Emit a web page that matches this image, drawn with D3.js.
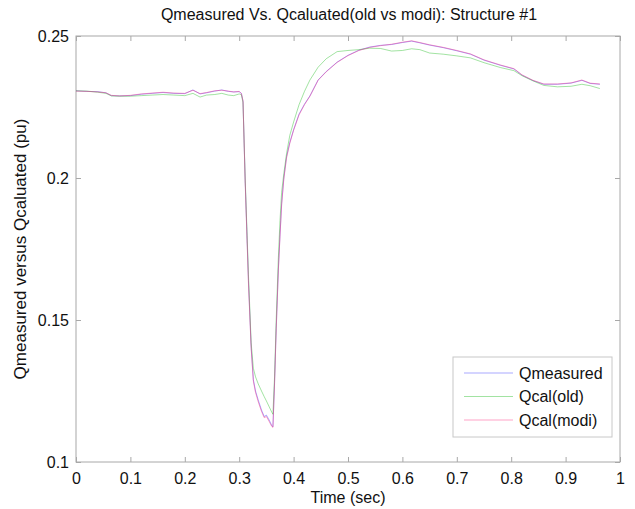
<!DOCTYPE html>
<html>
<head>
<meta charset="utf-8">
<script src="https://cdn.jsdelivr.net/npm/d3@7"></script>
<style>
  body { margin: 0; background: #fff; }
  svg { display: block; font-family: "Liberation Sans", Arial, sans-serif; }
</style>
</head>
<body>
<svg id="chart" width="635" height="509"></svg>
<script>
// time samples (sec), shared by all three traces
const TIME = [0, 0.02, 0.04, 0.055, 0.065, 0.08, 0.1, 0.12, 0.14, 0.16, 0.18, 0.2, 0.215, 0.228, 0.24, 0.255,
  0.268, 0.28, 0.29, 0.3, 0.304, 0.307, 0.311, 0.317, 0.322, 0.326, 0.33, 0.335, 0.341, 0.346, 0.35, 0.355,
  0.36, 0.362, 0.365, 0.368, 0.372, 0.375, 0.378, 0.382, 0.387, 0.393, 0.4, 0.41, 0.42, 0.43, 0.445, 0.46,
  0.48, 0.5, 0.52, 0.54, 0.56, 0.58, 0.6, 0.617, 0.632, 0.65, 0.675, 0.7, 0.725, 0.75, 0.78, 0.805, 0.82,
  0.84, 0.86, 0.885, 0.91, 0.93, 0.945, 0.963];

const Q_MEASURED = [0.2307, 0.2305, 0.2304, 0.2300, 0.2290, 0.2289, 0.2290, 0.2295, 0.2298, 0.2301, 0.2298,
  0.2297, 0.2310, 0.2296, 0.2300, 0.2306, 0.2310, 0.2305, 0.2303, 0.2304, 0.2298, 0.2270, 0.1990, 0.1640,
  0.1405, 0.1290, 0.1250, 0.1218, 0.1183, 0.1160, 0.1165, 0.1148, 0.1128, 0.1124, 0.1280, 0.1470, 0.1680,
  0.1800, 0.1910, 0.2000, 0.2075, 0.2125, 0.2170, 0.2225, 0.2260, 0.2289, 0.2345, 0.2375, 0.2408, 0.2432,
  0.2450, 0.2461, 0.2467, 0.2470, 0.2477, 0.2482, 0.2476, 0.2468, 0.2459, 0.2448, 0.2436, 0.2415, 0.2397,
  0.2384, 0.2362, 0.2343, 0.2330, 0.2330, 0.2334, 0.2344, 0.2333, 0.2330];

const Q_OLD = [0.2307, 0.2306, 0.2302, 0.2298, 0.2289, 0.2288, 0.2288, 0.2290, 0.2292, 0.2294, 0.2292,
  0.2290, 0.2298, 0.2285, 0.2292, 0.2294, 0.2298, 0.2292, 0.2290, 0.2296, 0.2293, 0.2265, 0.2000, 0.1660,
  0.1420, 0.1330, 0.1300, 0.1275, 0.1250, 0.1230, 0.1215, 0.1195, 0.1175, 0.1168, 0.1300, 0.1500, 0.1720,
  0.1850, 0.1950, 0.2015, 0.2085, 0.2150, 0.2197, 0.2258, 0.2305, 0.2345, 0.2390, 0.2420, 0.2445, 0.2449,
  0.2452, 0.2457, 0.2456, 0.2447, 0.2449, 0.2455, 0.2452, 0.2440, 0.2436, 0.2430, 0.2423, 0.2406, 0.2389,
  0.2378, 0.2360, 0.2342, 0.2326, 0.2321, 0.2323, 0.2330, 0.2325, 0.2315];

const Q_MODI = [0.2306, 0.2305, 0.2303, 0.2300, 0.2291, 0.2289, 0.2291, 0.2296, 0.2299, 0.2302, 0.2299,
  0.2298, 0.2309, 0.2297, 0.2301, 0.2307, 0.2309, 0.2306, 0.2303, 0.2305, 0.2297, 0.2272, 0.1985, 0.1630,
  0.1400, 0.1285, 0.1245, 0.1212, 0.1178, 0.1156, 0.1160, 0.1143, 0.1125, 0.1122, 0.1275, 0.1465, 0.1675,
  0.1795, 0.1905, 0.1995, 0.2070, 0.2122, 0.2168, 0.2222, 0.2258, 0.2288, 0.2344, 0.2374, 0.2407, 0.2431,
  0.2449, 0.2460, 0.2466, 0.2471, 0.2478, 0.2483, 0.2477, 0.2469, 0.2460, 0.2449, 0.2437, 0.2416, 0.2398,
  0.2385, 0.2363, 0.2344, 0.2331, 0.2331, 0.2335, 0.2345, 0.2334, 0.2331];

const X_TICKS = [0, 0.1, 0.2, 0.3, 0.4, 0.5, 0.6, 0.7, 0.8, 0.9, 1];
const Y_TICKS = [0.1, 0.15, 0.2, 0.25];
const SERIES = [
  { name: "Qmeasured", values: Q_MEASURED, color: "#4040ff" },
  { name: "Qcal(old)", values: Q_OLD, color: "#30c030" },
  { name: "Qcal(modi)", values: Q_MODI, color: "#ff3080" },
];
const LINE_OPACITY = 0.45;

const W = 635, H = 509;
const M = { top: 36, right: 15, bottom: 47, left: 76 };
const iw = W - M.left - M.right, ih = H - M.top - M.bottom;
const ink = "#111";
const frame = "#a8a8a8";
const FS = 16;

const svg = d3.select("#chart");
const g = svg.append("g").attr("transform", `translate(${M.left},${M.top})`);

const x = d3.scaleLinear().domain([0, 1]).range([0, iw]);
const y = d3.scaleLinear().domain([0.1, 0.25]).range([ih, 0]);

// box
g.append("rect").attr("width", iw).attr("height", ih)
  .attr("fill", "#fff").attr("stroke", frame).attr("stroke-width", 1);

// inward ticks, MATLAB style, on all four sides
const tickLen = 5;
const styleAxis = (sel) => {
  sel.select(".domain").remove();
  sel.selectAll(".tick line").attr("stroke", frame);
  sel.selectAll(".tick text").attr("fill", ink).attr("font-size", FS);
};
g.append("g").attr("transform", `translate(0,${ih})`)
  .call(d3.axisBottom(x).tickValues(X_TICKS).tickSize(-tickLen).tickPadding(11).tickFormat(d3.format("~g")))
  .call(styleAxis);
g.append("g")
  .call(d3.axisTop(x).tickValues(X_TICKS).tickSize(-tickLen).tickFormat(""))
  .call(styleAxis);
g.append("g")
  .call(d3.axisLeft(y).tickValues(Y_TICKS).tickSize(-tickLen).tickPadding(7).tickFormat(d3.format("~g")))
  .call(styleAxis);
g.append("g").attr("transform", `translate(${iw},0)`)
  .call(d3.axisRight(y).tickValues(Y_TICKS).tickSize(-tickLen).tickFormat(""))
  .call(styleAxis);

// traces
const line = d3.line().x((d, i) => x(TIME[i])).y((d) => y(d));
const gLines = g.append("g");
SERIES.forEach((s) => {
  gLines.append("path").datum(s.values)
    .attr("d", line)
    .attr("fill", "none")
    .attr("stroke", s.color)
    .attr("stroke-opacity", LINE_OPACITY)
    .attr("stroke-width", 1);
});

// legend
const lg = g.append("g").attr("transform", `translate(${453 - M.left},${357 - M.top})`);
lg.append("rect").attr("width", 159).attr("height", 80)
  .attr("fill", "#fff").attr("stroke", "#c8c8c8");
SERIES.forEach((s, i) => {
  const yy = 16 + i * 23.5;
  lg.append("line").attr("x1", 11).attr("x2", 60).attr("y1", yy).attr("y2", yy)
    .attr("stroke", s.color).attr("stroke-opacity", LINE_OPACITY).attr("stroke-width", 1);
  lg.append("text").attr("x", 66).attr("y", yy).attr("dy", "0.35em")
    .attr("font-size", FS).attr("fill", ink).text(s.name);
});

// title + axis labels
svg.append("text").attr("x", M.left + iw / 2 + 1).attr("y", 20)
  .attr("text-anchor", "middle").attr("font-size", FS).attr("fill", ink)
  .text("Qmeasured Vs. Qcaluated(old vs modi): Structure #1");
svg.append("text").attr("x", M.left + iw / 2).attr("y", 503)
  .attr("text-anchor", "middle").attr("font-size", FS).attr("fill", ink)
  .text("Time (sec)");
svg.append("text")
  .attr("transform", `translate(26,${M.top + ih / 2}) rotate(-90)`)
  .attr("text-anchor", "middle").attr("font-size", 17).attr("fill", ink)
  .text("Qmeasured versus Qcaluated (pu)");
</script>
</body>
</html>
